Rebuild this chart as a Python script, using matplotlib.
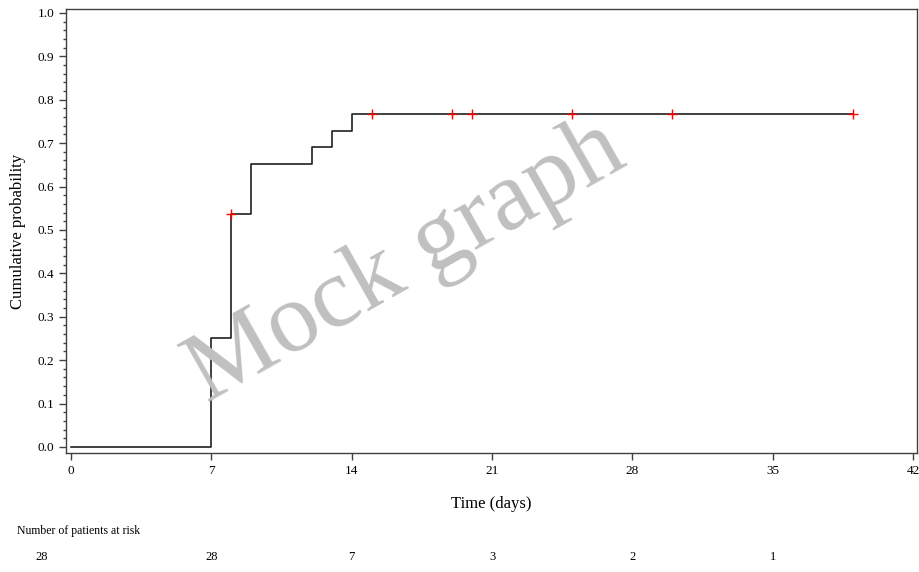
"""
Cumulative incidence (Kaplan-Meier style) mock graph with numbers at risk
"""
import matplotlib
matplotlib.use('Agg')
import matplotlib.pyplot as plt
import matplotlib.transforms as mtransforms
from matplotlib.ticker import MultipleLocator

# Step curve: event times and cumulative probability after each step
step_times = [0, 7, 8, 9, 12, 13, 14, 39]
step_probs = [0.0, 0.25, 0.536, 0.652, 0.690, 0.729, 0.768, 0.768]

# Censored observations
censor_times = [8, 15, 19, 20, 25, 30, 39]
censor_probs = [0.536, 0.768, 0.768, 0.768, 0.768, 0.768, 0.768]

# Numbers at risk table
risk_times = [0, 7, 14, 21, 28, 35]
risk_counts = [28, 28, 7, 3, 2, 1]

x_ticks = [0, 7, 14, 21, 28, 35, 42]

SERIF = ['Liberation Serif', 'DejaVu Serif']

fig = plt.figure(figsize=(9.2, 5.72), dpi=100)
W, H = 920, 572
ax = fig.add_axes([66 / W, 1 - 453 / H, (917 - 66) / W, (453 - 9) / H])

ax.step(step_times, step_probs, where='post', color='#202020', linewidth=1.2, zorder=3)
ax.plot(censor_times, censor_probs, linestyle='none', marker='+', color='red',
        markersize=7, markeredgewidth=1.0, zorder=4)

ax.set_xlim(-0.25, 42.2)
ax.set_ylim(-0.014, 1.009)
ax.set_xticks(x_ticks)
ax.yaxis.set_major_locator(MultipleLocator(0.1))
ax.yaxis.set_minor_locator(MultipleLocator(0.02))
ax.yaxis.set_major_formatter(plt.FuncFormatter(lambda v, p: f'{v:.1f}'))

for spine in ax.spines.values():
    spine.set_color('#404040')
    spine.set_linewidth(1.0)
ax.tick_params(axis='both', which='major', length=5, width=1.0, color='#404040',
               labelsize=9.5, labelcolor='black')
ax.tick_params(axis='y', which='minor', length=2.5, width=1.0, color='#404040')
for lbl in ax.get_xticklabels() + ax.get_yticklabels():
    lbl.set_family(SERIF)

ax.set_xlabel('Time (days)', fontsize=12, family=SERIF, labelpad=14)
ax.set_ylabel('Cumulative probability', fontsize=12, family=SERIF, labelpad=8)

# Watermark
fig.text(406 / W, 1 - 262 / H, 'Mock graph', fontsize=72, family=SERIF,
         color='#c0c0c0', rotation=29.5, ha='center', va='center',
         rotation_mode='anchor', zorder=10)

# Numbers at risk
fig.text(17 / W, 1 - 531 / H, 'Number of patients at risk', fontsize=8.5,
         family=SERIF, ha='left', va='center')
trans = mtransforms.blended_transform_factory(ax.transData, fig.transFigure)
for i, (t, n) in enumerate(zip(risk_times, risk_counts)):
    x = t if i > 0 else -1.45
    ax.text(x, 1 - 557 / H, str(n), transform=trans, fontsize=9, family=SERIF,
            ha='center', va='center', clip_on=False)

plt.savefig('out.png', dpi=100)
plt.close()
